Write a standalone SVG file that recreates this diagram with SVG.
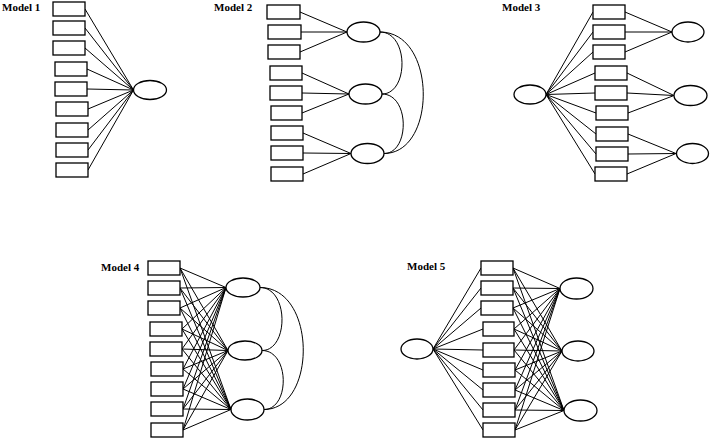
<svg xmlns="http://www.w3.org/2000/svg" width="710" height="439" viewBox="0 0 710 439">
<style>
.b{fill:#fff;stroke:#000;stroke-width:1.3}
.e{fill:#fff;stroke:#000;stroke-width:1.3}
.c line,.c path{stroke:#000;stroke-width:1;fill:none}
.t{font-family:"Liberation Serif","Times New Roman",serif;font-weight:bold;font-size:11px;fill:#000}
</style>
<rect width="710" height="439" fill="#fff"/>
<g id="labels">
<text class="t" x="2" y="11">Model 1</text>
<text class="t" x="214" y="11">Model 2</text>
<text class="t" x="502" y="11">Model 3</text>
<text class="t" x="101" y="271">Model 4</text>
<text class="t" x="407" y="270">Model 5</text>
</g>
<g id="connectors" class="c">
<!-- Model 1 -->
<line x1="85" y1="9" x2="133.5" y2="90"/>
<line x1="85" y1="28" x2="133.5" y2="90"/>
<line x1="85" y1="48" x2="133.5" y2="90"/>
<line x1="87" y1="69" x2="133.5" y2="90"/>
<line x1="87" y1="89" x2="133.5" y2="90"/>
<line x1="88" y1="109" x2="133.5" y2="90"/>
<line x1="88" y1="130" x2="133.5" y2="90"/>
<line x1="88" y1="150" x2="133.5" y2="90"/>
<line x1="88" y1="170" x2="133.5" y2="90"/>
<!-- Model 2 -->
<line x1="300" y1="12" x2="347" y2="32"/>
<line x1="301" y1="32" x2="347" y2="32"/>
<line x1="300" y1="52" x2="347" y2="32"/>
<line x1="302" y1="73" x2="349" y2="94"/>
<line x1="302" y1="93" x2="349" y2="94"/>
<line x1="302" y1="113" x2="349" y2="94"/>
<line x1="303" y1="133" x2="351" y2="153.5"/>
<line x1="303" y1="153" x2="351" y2="153.5"/>
<line x1="303" y1="174" x2="351" y2="153.5"/>
<path d="M380,32 C409,32 409,94 382,94"/>
<path d="M382,94 C410,94 410,153.5 384,153.5"/>
<path d="M380,32 C437,32 437,153.5 384,153.5"/>
<!-- Model 3 -->
<line x1="546" y1="94.5" x2="593" y2="12"/>
<line x1="546" y1="94.5" x2="593" y2="32"/>
<line x1="546" y1="94.5" x2="593" y2="52"/>
<line x1="546" y1="94.5" x2="595" y2="73"/>
<line x1="546" y1="94.5" x2="595" y2="93"/>
<line x1="546" y1="94.5" x2="596" y2="113"/>
<line x1="546" y1="94.5" x2="596" y2="134"/>
<line x1="546" y1="94.5" x2="596" y2="154"/>
<line x1="546" y1="94.5" x2="595" y2="174"/>
<line x1="625" y1="12" x2="672" y2="32"/>
<line x1="625" y1="32" x2="672" y2="32"/>
<line x1="625" y1="52" x2="672" y2="32"/>
<line x1="627" y1="73" x2="674" y2="95.5"/>
<line x1="627" y1="93" x2="674" y2="95.5"/>
<line x1="628" y1="113" x2="674" y2="95.5"/>
<line x1="628" y1="134" x2="676" y2="153.5"/>
<line x1="628" y1="154" x2="676" y2="153.5"/>
<line x1="627" y1="174" x2="676" y2="153.5"/>
<!-- Model 4 -->
<line x1="180" y1="268" x2="226" y2="287.5"/><line x1="180" y1="268" x2="228" y2="350.5"/><line x1="180" y1="268" x2="231" y2="409.5"/>
<line x1="180" y1="288" x2="226" y2="287.5"/><line x1="180" y1="288" x2="228" y2="350.5"/><line x1="180" y1="288" x2="231" y2="409.5"/>
<line x1="180" y1="308" x2="226" y2="287.5"/><line x1="180" y1="308" x2="228" y2="350.5"/><line x1="180" y1="308" x2="231" y2="409.5"/>
<line x1="182" y1="329" x2="226" y2="287.5"/><line x1="182" y1="329" x2="228" y2="350.5"/><line x1="182" y1="329" x2="231" y2="409.5"/>
<line x1="182" y1="349" x2="226" y2="287.5"/><line x1="182" y1="349" x2="228" y2="350.5"/><line x1="182" y1="349" x2="231" y2="409.5"/>
<line x1="183" y1="369" x2="226" y2="287.5"/><line x1="183" y1="369" x2="228" y2="350.5"/><line x1="183" y1="369" x2="231" y2="409.5"/>
<line x1="183" y1="389" x2="226" y2="287.5"/><line x1="183" y1="389" x2="228" y2="350.5"/><line x1="183" y1="389" x2="231" y2="409.5"/>
<line x1="183" y1="409" x2="226" y2="287.5"/><line x1="183" y1="409" x2="228" y2="350.5"/><line x1="183" y1="409" x2="231" y2="409.5"/>
<line x1="183" y1="430" x2="226" y2="287.5"/><line x1="183" y1="430" x2="228" y2="350.5"/><line x1="183" y1="430" x2="231" y2="409.5"/>
<path d="M260,287.5 C289,287.5 289,350.5 262,350.5"/>
<path d="M262,350.5 C290,350.5 290,409.5 264,409.5"/>
<path d="M260,287.5 C317,287.5 317,409.5 264,409.5"/>
<!-- Model 5 -->
<line x1="433" y1="349" x2="481" y2="268"/>
<line x1="433" y1="349" x2="481" y2="288"/>
<line x1="433" y1="349" x2="481" y2="308"/>
<line x1="433" y1="349" x2="483" y2="329"/>
<line x1="433" y1="349" x2="483" y2="350"/>
<line x1="433" y1="349" x2="483" y2="370"/>
<line x1="433" y1="349" x2="483" y2="390"/>
<line x1="433" y1="349" x2="483" y2="410"/>
<line x1="433" y1="349" x2="483" y2="430"/>
<line x1="513" y1="268" x2="560" y2="288.5"/><line x1="513" y1="268" x2="562" y2="351"/><line x1="513" y1="268" x2="564" y2="410.5"/>
<line x1="513" y1="288" x2="560" y2="288.5"/><line x1="513" y1="288" x2="562" y2="351"/><line x1="513" y1="288" x2="564" y2="410.5"/>
<line x1="513" y1="308" x2="560" y2="288.5"/><line x1="513" y1="308" x2="562" y2="351"/><line x1="513" y1="308" x2="564" y2="410.5"/>
<line x1="514" y1="329" x2="560" y2="288.5"/><line x1="514" y1="329" x2="562" y2="351"/><line x1="514" y1="329" x2="564" y2="410.5"/>
<line x1="514" y1="350" x2="560" y2="288.5"/><line x1="514" y1="350" x2="562" y2="351"/><line x1="514" y1="350" x2="564" y2="410.5"/>
<line x1="515" y1="370" x2="560" y2="288.5"/><line x1="515" y1="370" x2="562" y2="351"/><line x1="515" y1="370" x2="564" y2="410.5"/>
<line x1="515" y1="390" x2="560" y2="288.5"/><line x1="515" y1="390" x2="562" y2="351"/><line x1="515" y1="390" x2="564" y2="410.5"/>
<line x1="515" y1="410" x2="560" y2="288.5"/><line x1="515" y1="410" x2="562" y2="351"/><line x1="515" y1="410" x2="564" y2="410.5"/>
<line x1="515" y1="430" x2="560" y2="288.5"/><line x1="515" y1="430" x2="562" y2="351"/><line x1="515" y1="430" x2="564" y2="410.5"/>
</g>
<g id="model1">
<g id="m1-x1"><rect class="b" x="53" y="2" width="32" height="14"/></g>
<g id="m1-x2"><rect class="b" x="53" y="21" width="32" height="14"/></g>
<g id="m1-x3"><rect class="b" x="53" y="41" width="32" height="14"/></g>
<g id="m1-x4"><rect class="b" x="55" y="62" width="32" height="14"/></g>
<g id="m1-x5"><rect class="b" x="55" y="82" width="32" height="14"/></g>
<g id="m1-x6"><rect class="b" x="56" y="102" width="32" height="14"/></g>
<g id="m1-x7"><rect class="b" x="56" y="123" width="32" height="14"/></g>
<g id="m1-x8"><rect class="b" x="56" y="143" width="32" height="14"/></g>
<g id="m1-x9"><rect class="b" x="56" y="163" width="32" height="14"/></g>
<g id="m1-f"><ellipse class="e" cx="150" cy="90" rx="16.5" ry="9.5"/></g>
</g>
<g id="model2">
<g id="m2-x1"><rect class="b" x="267" y="5" width="33" height="14"/></g>
<g id="m2-x2"><rect class="b" x="268" y="25" width="33" height="14"/></g>
<g id="m2-x3"><rect class="b" x="268" y="45" width="32" height="14"/></g>
<g id="m2-x4"><rect class="b" x="270" y="66" width="32" height="14"/></g>
<g id="m2-x5"><rect class="b" x="270" y="86" width="32" height="14"/></g>
<g id="m2-x6"><rect class="b" x="271" y="106" width="31" height="14"/></g>
<g id="m2-x7"><rect class="b" x="271" y="126" width="32" height="14"/></g>
<g id="m2-x8"><rect class="b" x="271" y="146" width="32" height="14"/></g>
<g id="m2-x9"><rect class="b" x="271" y="167" width="32" height="14"/></g>
<g id="m2-f1"><ellipse class="e" cx="363.5" cy="32" rx="16.5" ry="10"/></g>
<g id="m2-f2"><ellipse class="e" cx="365.5" cy="94" rx="16.5" ry="10"/></g>
<g id="m2-f3"><ellipse class="e" cx="367.5" cy="153.5" rx="16.5" ry="10"/></g>
</g>
<g id="model3">
<g id="m3-x1"><rect class="b" x="593" y="5" width="32" height="14"/></g>
<g id="m3-x2"><rect class="b" x="593" y="25" width="32" height="14"/></g>
<g id="m3-x3"><rect class="b" x="593" y="45" width="32" height="14"/></g>
<g id="m3-x4"><rect class="b" x="595" y="66" width="32" height="14"/></g>
<g id="m3-x5"><rect class="b" x="595" y="86" width="32" height="14"/></g>
<g id="m3-x6"><rect class="b" x="596" y="106" width="32" height="14"/></g>
<g id="m3-x7"><rect class="b" x="596" y="127" width="32" height="14"/></g>
<g id="m3-x8"><rect class="b" x="596" y="147" width="32" height="14"/></g>
<g id="m3-x9"><rect class="b" x="595" y="167" width="32" height="14"/></g>
<g id="m3-g"><ellipse class="e" cx="530" cy="94.5" rx="16" ry="9.5"/></g>
<g id="m3-f1"><ellipse class="e" cx="688" cy="32" rx="16" ry="10"/></g>
<g id="m3-f2"><ellipse class="e" cx="690.5" cy="95.5" rx="16.5" ry="10"/></g>
<g id="m3-f3"><ellipse class="e" cx="692.5" cy="153.5" rx="16" ry="10"/></g>
</g>
<g id="model4">
<g id="m4-x1"><rect class="b" x="148" y="261" width="32" height="14"/></g>
<g id="m4-x2"><rect class="b" x="148" y="281" width="32" height="14"/></g>
<g id="m4-x3"><rect class="b" x="148" y="301" width="32" height="14"/></g>
<g id="m4-x4"><rect class="b" x="150" y="322" width="32" height="14"/></g>
<g id="m4-x5"><rect class="b" x="150" y="342" width="32" height="14"/></g>
<g id="m4-x6"><rect class="b" x="151" y="362" width="32" height="14"/></g>
<g id="m4-x7"><rect class="b" x="151" y="382" width="32" height="14"/></g>
<g id="m4-x8"><rect class="b" x="151" y="402" width="32" height="14"/></g>
<g id="m4-x9"><rect class="b" x="151" y="423" width="32" height="14"/></g>
<g id="m4-f1"><ellipse class="e" cx="243" cy="287.5" rx="17" ry="9.5"/></g>
<g id="m4-f2"><ellipse class="e" cx="245" cy="350.5" rx="17" ry="9.5"/></g>
<g id="m4-f3"><ellipse class="e" cx="247.5" cy="409.5" rx="16.5" ry="10.5"/></g>
</g>
<g id="model5">
<g id="m5-x1"><rect class="b" x="481" y="261" width="32" height="14"/></g>
<g id="m5-x2"><rect class="b" x="481" y="281" width="32" height="14"/></g>
<g id="m5-x3"><rect class="b" x="481" y="301" width="32" height="14"/></g>
<g id="m5-x4"><rect class="b" x="483" y="322" width="31" height="14"/></g>
<g id="m5-x5"><rect class="b" x="483" y="343" width="31" height="14"/></g>
<g id="m5-x6"><rect class="b" x="483" y="363" width="32" height="14"/></g>
<g id="m5-x7"><rect class="b" x="483" y="383" width="32" height="14"/></g>
<g id="m5-x8"><rect class="b" x="483" y="403" width="32" height="14"/></g>
<g id="m5-x9"><rect class="b" x="483" y="423" width="32" height="14"/></g>
<g id="m5-g"><ellipse class="e" cx="417" cy="349" rx="16" ry="10"/></g>
<g id="m5-f1"><ellipse class="e" cx="576.5" cy="288.5" rx="16.5" ry="10.5"/></g>
<g id="m5-f2"><ellipse class="e" cx="578" cy="351" rx="16" ry="10"/></g>
<g id="m5-f3"><ellipse class="e" cx="580.5" cy="410.5" rx="16.5" ry="10.5"/></g>
</g>
</svg>
